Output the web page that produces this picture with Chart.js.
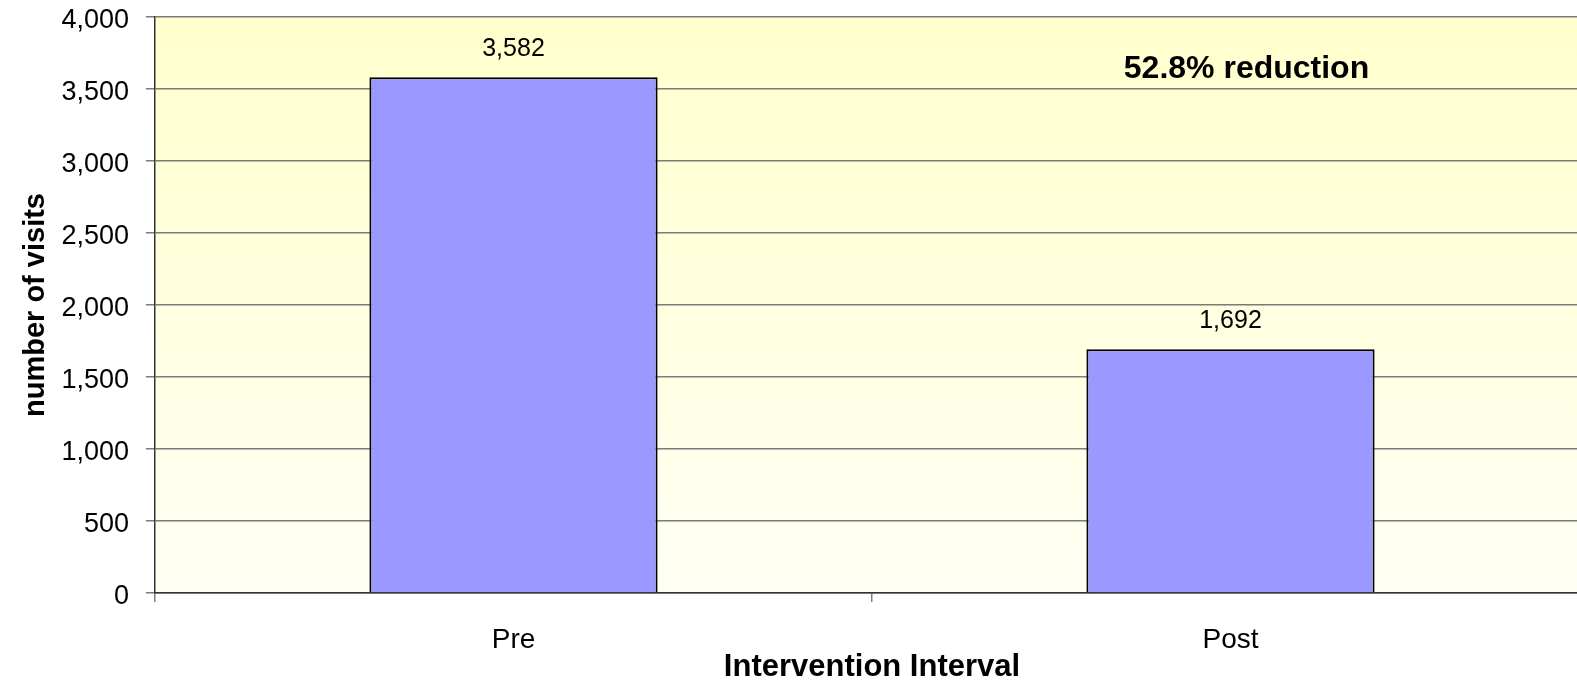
<!DOCTYPE html>
<html>
<head>
<meta charset="utf-8">
<script src="https://cdn.jsdelivr.net/npm/chart.js@4"></script>
<style>
  html, body { margin: 0; padding: 0; overflow: hidden; background: #ffffff; }
  #wrap { width: 1600px; height: 691px; }
</style>
</head>
<body>
<div id="wrap"><canvas id="c" width="1600" height="691"></canvas></div>
<script>
// ---- data ----
const categories = ['Pre', 'Post'];
const visits = [3582, 1692];
const yMin = 0;
const yMax = 4000;
const yStep = 500;
const xTitle = 'Intervention Interval';
const yTitle = 'number of visits';

const FONT = '"Liberation Sans", Arial, sans-serif';
Chart.defaults.font.family = FONT;

const bgPlugin = {
  id: 'bg',
  beforeDraw(chart) {
    const { ctx, chartArea: a } = chart;
    const g = ctx.createLinearGradient(0, a.top, 0, a.bottom);
    g.addColorStop(0, '#FFFFCC');
    g.addColorStop(1, '#FFFFF4');
    ctx.save();
    ctx.fillStyle = g;
    ctx.fillRect(a.left, a.top, a.right - a.left, a.bottom - a.top);
    ctx.restore();
  }
};

const labelPlugin = {
  id: 'vals',
  afterDatasetsDraw(chart) {
    const { ctx } = chart;
    const meta = chart.getDatasetMeta(0);
    ctx.save();
    ctx.fillStyle = '#000';
    ctx.font = '25px ' + FONT;
    ctx.textAlign = 'center';
    ctx.textBaseline = 'alphabetic';
    meta.data.forEach((bar, i) => {
      ctx.fillText(visits[i].toLocaleString('en-US'), bar.x, bar.y - 21);
    });
    // reduction annotation
    const red = ((1 - visits[1] / visits[0]) * 100).toFixed(1) + '% reduction';
    const xs = chart.scales.x, ys = chart.scales.y;
    ctx.font = 'bold 32px ' + FONT;
    ctx.textBaseline = 'middle';
    ctx.fillText(red, xs.getPixelForValue(1) + 16, ys.getPixelForValue(3640));
    ctx.restore();
  }
};

new Chart(document.getElementById('c'), {
  type: 'bar',
  data: {
    labels: categories,
    datasets: [{
      data: visits,
      backgroundColor: '#9999FF',
      borderColor: '#000000',
      borderWidth: 2,
      borderSkipped: 'start',
      barPercentage: 0.402,
      categoryPercentage: 1.0
    }]
  },
  options: {
    responsive: false,
    animation: false,
    devicePixelRatio: 1,
    locale: 'en-US',
    layout: { padding: { top: 17, right: 11, bottom: 0, left: 0 } },
    plugins: { legend: { display: false }, tooltip: { enabled: false } },
    scales: {
      x: {
        ticks: { color: '#000', font: { size: 28, lineHeight: 1 }, padding: 24 },
        grid: { offset: true, drawOnChartArea: false, drawTicks: true, tickLength: 9, color: '#808080', lineWidth: 1.5 },
        border: { color: '#333', width: 1.5 },
        title: {
          display: true, text: xTitle, color: '#000',
          font: { size: 31, weight: 'bold', lineHeight: 1.2 },
          padding: { top: 0, bottom: 5 }
        },
        afterFit: (s) => { s.height = 98; }
      },
      y: {
        min: yMin, max: yMax,
        ticks: { stepSize: yStep, color: '#000', font: { size: 27, lineHeight: 1.2 }, padding: 17, labelOffset: 4 },
        grid: { color: '#7a7a7a', lineWidth: 1.5, tickLength: 9, drawTicks: true },
        border: { color: '#333', width: 1.5 },
        title: {
          display: true, text: yTitle, color: '#000',
          font: { size: 29, weight: 'bold', lineHeight: 1.2 },
          padding: { top: 19, bottom: 0 }
        },
        afterFit: (s) => { s.width = 155; s.paddingTop = 0; s.paddingBottom = 0; }
      }
    }
  },
  plugins: [bgPlugin, labelPlugin]
});
</script>
</body>
</html>
